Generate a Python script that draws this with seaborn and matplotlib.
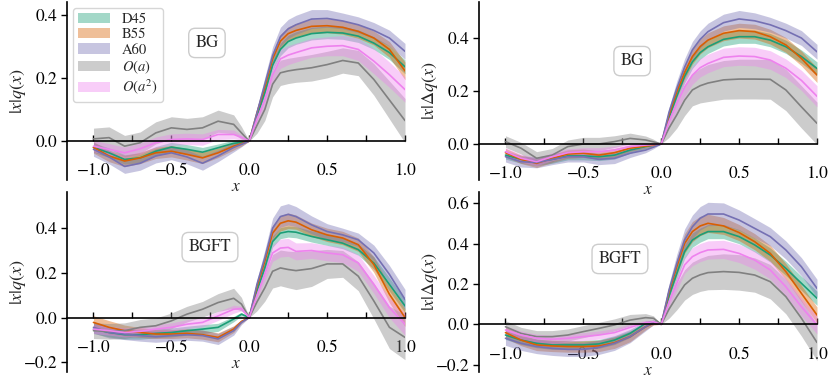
import numpy as np
import pandas as pd
import matplotlib
matplotlib.use("Agg")
import matplotlib.pyplot as plt
import seaborn as sns
from matplotlib.patches import Patch
from matplotlib.ticker import MultipleLocator

# ---------------- data ----------------
x = [-1.0, -0.9, -0.8, -0.7, -0.6, -0.5, -0.4, -0.3, -0.2, -0.1, -0.05, 0.0,
     0.05, 0.1, 0.15, 0.2, 0.25, 0.3, 0.4, 0.5, 0.6, 0.7, 0.8, 0.9, 1.0]

series_names = ["D45", "B55", "A60", "$O(a)$", "$O(a^2)$"]
series_colors = ["#1b9e77", "#d95f02", "#7570b3", "#808080", "#ee82ee"]

panel_labels = ["BG", "BG", "BGFT", "BGFT"]
panel_ylabels = ["$|x|q(x)$", "$|x|\\Delta q(x)$", "$|x|q(x)$", "$|x|\\Delta q(x)$"]

# top-left: |x| q(x), BG
tl_D45 = [-0.020, -0.037, -0.058, -0.053, -0.032, -0.019, -0.026, -0.035, -0.021, -0.007, -0.004, 0.0,
          0.080, 0.153, 0.240, 0.290, 0.315, 0.326, 0.340, 0.344, 0.342, 0.332, 0.310, 0.280, 0.235]
tl_B55 = [-0.020, -0.047, -0.063, -0.053, -0.037, -0.032, -0.042, -0.053, -0.037, -0.016, -0.008, 0.0,
          0.090, 0.170, 0.260, 0.316, 0.340, 0.350, 0.363, 0.365, 0.360, 0.347, 0.326, 0.290, 0.222]
tl_A60 = [-0.026, -0.050, -0.080, -0.070, -0.047, -0.037, -0.050, -0.070, -0.047, -0.020, -0.010, 0.0,
          0.090, 0.180, 0.270, 0.330, 0.355, 0.368, 0.386, 0.388, 0.380, 0.368, 0.350, 0.326, 0.284]
tl_Oa = [0.007, 0.011, -0.016, -0.005, 0.026, 0.042, 0.037, 0.042, 0.063, 0.053, 0.026, 0.0,
         0.050, 0.100, 0.180, 0.216, 0.222, 0.226, 0.232, 0.242, 0.255, 0.247, 0.195, 0.130, 0.065]
tl_Oa2 = [-0.016, -0.026, -0.037, -0.024, -0.005, 0.005, 0.007, 0.005, 0.021, 0.021, 0.012, 0.0,
          0.070, 0.130, 0.210, 0.260, 0.272, 0.280, 0.295, 0.300, 0.302, 0.290, 0.253, 0.210, 0.163]
tl_D45_err = [0.015, 0.015, 0.015, 0.015, 0.015, 0.015, 0.015, 0.015, 0.012, 0.010, 0.006, 0.0,
              0.010, 0.015, 0.018, 0.020, 0.020, 0.020, 0.020, 0.020, 0.020, 0.020, 0.020, 0.022, 0.022]
tl_B55_err = [0.018, 0.018, 0.018, 0.018, 0.018, 0.018, 0.018, 0.018, 0.015, 0.012, 0.008, 0.0,
              0.012, 0.018, 0.020, 0.022, 0.022, 0.022, 0.022, 0.022, 0.022, 0.022, 0.022, 0.025, 0.028]
tl_A60_err = [0.022, 0.022, 0.022, 0.022, 0.022, 0.022, 0.022, 0.022, 0.018, 0.014, 0.008, 0.0,
              0.015, 0.022, 0.028, 0.030, 0.030, 0.030, 0.030, 0.028, 0.025, 0.025, 0.025, 0.025, 0.025]
tl_Oa_err = [0.034, 0.034, 0.034, 0.034, 0.035, 0.035, 0.035, 0.035, 0.035, 0.030, 0.020, 0.0,
             0.025, 0.035, 0.040, 0.040, 0.040, 0.040, 0.042, 0.042, 0.040, 0.040, 0.050, 0.060, 0.070]
tl_Oa2_err = [0.018, 0.018, 0.018, 0.018, 0.018, 0.018, 0.018, 0.018, 0.016, 0.014, 0.008, 0.0,
              0.015, 0.025, 0.030, 0.030, 0.030, 0.030, 0.030, 0.030, 0.032, 0.035, 0.040, 0.040, 0.040]

# top-right: |x| Delta q(x), BG
tr_D45 = [-0.042, -0.058, -0.067, -0.058, -0.045, -0.045, -0.048, -0.042, -0.023, -0.010, -0.005, 0.0,
          0.100, 0.180, 0.255, 0.310, 0.345, 0.367, 0.395, 0.405, 0.405, 0.392, 0.367, 0.330, 0.285]
tr_B55 = [-0.033, -0.058, -0.073, -0.054, -0.038, -0.035, -0.042, -0.033, -0.016, -0.008, -0.004, 0.0,
          0.110, 0.197, 0.270, 0.330, 0.368, 0.392, 0.418, 0.428, 0.424, 0.405, 0.374, 0.323, 0.260]
tr_A60 = [-0.048, -0.067, -0.070, -0.058, -0.048, -0.048, -0.058, -0.054, -0.035, -0.023, -0.012, 0.0,
          0.120, 0.210, 0.290, 0.355, 0.395, 0.424, 0.458, 0.472, 0.465, 0.450, 0.428, 0.400, 0.348]
tr_Oa = [0.009, -0.016, -0.054, -0.042, -0.010, 0.000, 0.000, 0.009, 0.021, 0.015, 0.008, 0.0,
         0.060, 0.110, 0.165, 0.204, 0.220, 0.230, 0.242, 0.245, 0.245, 0.244, 0.204, 0.140, 0.078]
tr_Oa2 = [-0.029, -0.054, -0.067, -0.048, -0.033, -0.029, -0.029, -0.023, -0.010, -0.004, -0.002, 0.0,
          0.085, 0.153, 0.215, 0.260, 0.288, 0.304, 0.327, 0.332, 0.330, 0.317, 0.286, 0.240, 0.180]
tr_D45_err = [0.015, 0.015, 0.015, 0.015, 0.015, 0.015, 0.015, 0.015, 0.012, 0.008, 0.005, 0.0,
              0.015, 0.022, 0.025, 0.025, 0.025, 0.025, 0.025, 0.025, 0.025, 0.025, 0.025, 0.025, 0.025]
tr_B55_err = [0.016, 0.016, 0.016, 0.016, 0.016, 0.016, 0.016, 0.016, 0.012, 0.008, 0.005, 0.0,
              0.015, 0.022, 0.028, 0.028, 0.028, 0.028, 0.028, 0.028, 0.028, 0.028, 0.028, 0.028, 0.028]
tr_A60_err = [0.020, 0.020, 0.020, 0.020, 0.020, 0.020, 0.020, 0.020, 0.016, 0.010, 0.006, 0.0,
              0.018, 0.028, 0.032, 0.032, 0.032, 0.032, 0.032, 0.032, 0.030, 0.028, 0.028, 0.028, 0.028]
tr_Oa_err = [0.022, 0.022, 0.025, 0.025, 0.025, 0.025, 0.025, 0.022, 0.020, 0.015, 0.010, 0.0,
             0.035, 0.050, 0.058, 0.060, 0.065, 0.070, 0.073, 0.075, 0.075, 0.075, 0.078, 0.080, 0.080]
tr_Oa2_err = [0.015, 0.015, 0.015, 0.015, 0.015, 0.015, 0.015, 0.015, 0.012, 0.008, 0.005, 0.0,
              0.020, 0.030, 0.035, 0.035, 0.035, 0.035, 0.035, 0.035, 0.035, 0.035, 0.035, 0.038, 0.040]

# bottom-left: |x| q(x), BGFT
bl_D45 = [-0.052, -0.067, -0.077, -0.077, -0.071, -0.067, -0.059, -0.052, -0.044, -0.007, 0.015, 0.0,
          0.120, 0.222, 0.340, 0.378, 0.385, 0.382, 0.363, 0.348, 0.333, 0.304, 0.244, 0.148, 0.052]
bl_B55 = [-0.022, -0.044, -0.059, -0.067, -0.074, -0.074, -0.071, -0.077, -0.089, -0.052, -0.018, 0.0,
          0.140, 0.252, 0.378, 0.422, 0.433, 0.427, 0.393, 0.370, 0.356, 0.326, 0.237, 0.104, 0.000]
bl_A60 = [-0.044, -0.067, -0.074, -0.081, -0.086, -0.081, -0.077, -0.081, -0.096, -0.059, -0.022, 0.0,
          0.150, 0.267, 0.400, 0.452, 0.462, 0.452, 0.415, 0.385, 0.370, 0.348, 0.289, 0.193, 0.081]
bl_Oa = [-0.059, -0.062, -0.059, -0.044, -0.037, -0.015, 0.015, 0.037, 0.067, 0.086, 0.060, 0.0,
         0.070, 0.133, 0.207, 0.222, 0.215, 0.210, 0.219, 0.240, 0.240, 0.185, 0.074, -0.044, -0.089]
bl_Oa2 = [-0.052, -0.059, -0.067, -0.062, -0.052, -0.044, -0.030, -0.022, 0.007, 0.037, 0.040, 0.0,
          0.100, 0.193, 0.289, 0.311, 0.314, 0.296, 0.300, 0.289, 0.281, 0.244, 0.148, 0.044, -0.030]
bl_D45_err = [0.020, 0.020, 0.020, 0.020, 0.020, 0.020, 0.020, 0.020, 0.018, 0.012, 0.008, 0.0,
              0.015, 0.022, 0.025, 0.025, 0.025, 0.025, 0.025, 0.025, 0.025, 0.025, 0.028, 0.030, 0.030]
bl_B55_err = [0.030, 0.030, 0.025, 0.022, 0.020, 0.020, 0.020, 0.020, 0.020, 0.015, 0.008, 0.0,
              0.018, 0.028, 0.035, 0.035, 0.035, 0.032, 0.030, 0.030, 0.030, 0.030, 0.035, 0.038, 0.040]
bl_A60_err = [0.025, 0.025, 0.025, 0.025, 0.025, 0.025, 0.025, 0.025, 0.025, 0.020, 0.010, 0.0,
              0.020, 0.035, 0.045, 0.048, 0.048, 0.045, 0.040, 0.035, 0.030, 0.030, 0.035, 0.040, 0.045]
bl_Oa_err = [0.035, 0.035, 0.035, 0.035, 0.035, 0.035, 0.035, 0.035, 0.040, 0.045, 0.030, 0.0,
             0.040, 0.060, 0.075, 0.080, 0.082, 0.085, 0.080, 0.065, 0.060, 0.065, 0.080, 0.095, 0.100]
bl_Oa2_err = [0.020, 0.020, 0.020, 0.020, 0.020, 0.020, 0.020, 0.020, 0.020, 0.018, 0.010, 0.0,
              0.020, 0.030, 0.038, 0.040, 0.040, 0.038, 0.035, 0.035, 0.035, 0.038, 0.040, 0.045, 0.050]

# bottom-right: |x| Delta q(x), BGFT
br_D45 = [-0.053, -0.078, -0.094, -0.102, -0.102, -0.102, -0.097, -0.078, -0.045, 0.005, 0.013, 0.0,
          0.140, 0.252, 0.360, 0.417, 0.442, 0.459, 0.459, 0.434, 0.393, 0.343, 0.277, 0.203, 0.129]
br_B55 = [-0.041, -0.078, -0.102, -0.107, -0.110, -0.110, -0.107, -0.091, -0.061, -0.012, 0.005, 0.0,
          0.160, 0.285, 0.400, 0.459, 0.487, 0.500, 0.487, 0.454, 0.409, 0.351, 0.261, 0.153, 0.046]
br_A60 = [-0.069, -0.094, -0.110, -0.119, -0.124, -0.124, -0.114, -0.094, -0.061, -0.012, 0.008, 0.0,
          0.170, 0.302, 0.417, 0.483, 0.525, 0.546, 0.546, 0.516, 0.475, 0.434, 0.368, 0.285, 0.178]
br_Oa = [-0.012, -0.045, -0.061, -0.061, -0.053, -0.036, -0.020, -0.003, 0.021, 0.033, 0.030, 0.0,
         0.075, 0.137, 0.195, 0.228, 0.245, 0.256, 0.261, 0.257, 0.244, 0.211, 0.137, 0.030, -0.090]
br_Oa2 = [-0.028, -0.053, -0.069, -0.074, -0.069, -0.061, -0.053, -0.041, -0.015, 0.008, 0.013, 0.0,
          0.110, 0.203, 0.294, 0.335, 0.355, 0.368, 0.371, 0.351, 0.318, 0.269, 0.186, 0.087, -0.003]
br_D45_err = [0.022, 0.022, 0.022, 0.022, 0.022, 0.022, 0.022, 0.022, 0.020, 0.012, 0.008, 0.0,
              0.020, 0.030, 0.035, 0.035, 0.035, 0.035, 0.035, 0.035, 0.035, 0.035, 0.035, 0.035, 0.035]
br_B55_err = [0.028, 0.028, 0.028, 0.028, 0.028, 0.028, 0.028, 0.028, 0.025, 0.015, 0.008, 0.0,
              0.025, 0.040, 0.048, 0.050, 0.048, 0.045, 0.042, 0.040, 0.040, 0.040, 0.040, 0.040, 0.040]
br_A60_err = [0.035, 0.035, 0.035, 0.035, 0.035, 0.035, 0.035, 0.035, 0.030, 0.020, 0.010, 0.0,
              0.030, 0.045, 0.055, 0.058, 0.058, 0.058, 0.055, 0.050, 0.048, 0.045, 0.045, 0.045, 0.045]
br_Oa_err = [0.030, 0.030, 0.030, 0.030, 0.030, 0.030, 0.030, 0.030, 0.028, 0.020, 0.012, 0.0,
             0.045, 0.065, 0.075, 0.080, 0.082, 0.085, 0.088, 0.088, 0.085, 0.085, 0.085, 0.088, 0.090]
br_Oa2_err = [0.020, 0.020, 0.020, 0.020, 0.020, 0.020, 0.020, 0.020, 0.018, 0.012, 0.008, 0.0,
              0.025, 0.035, 0.042, 0.045, 0.045, 0.045, 0.045, 0.045, 0.045, 0.045, 0.045, 0.045, 0.045]

panels = [
    ([tl_D45, tl_B55, tl_A60, tl_Oa, tl_Oa2], [tl_D45_err, tl_B55_err, tl_A60_err, tl_Oa_err, tl_Oa2_err]),
    ([tr_D45, tr_B55, tr_A60, tr_Oa, tr_Oa2], [tr_D45_err, tr_B55_err, tr_A60_err, tr_Oa_err, tr_Oa2_err]),
    ([bl_D45, bl_B55, bl_A60, bl_Oa, bl_Oa2], [bl_D45_err, bl_B55_err, bl_A60_err, bl_Oa_err, bl_Oa2_err]),
    ([br_D45, br_B55, br_A60, br_Oa, br_Oa2], [br_D45_err, br_B55_err, br_A60_err, br_Oa_err, br_Oa2_err]),
]

# ---------------- style ----------------
sns.set_theme(style="ticks")
plt.rcParams["font.family"] = ["STIXGeneral", "DejaVu Serif"]
plt.rcParams["mathtext.fontset"] = "stix"
plt.rcParams["axes.unicode_minus"] = True

fig = plt.figure(figsize=(8.3, 3.77), dpi=100)
W, H = 830.0, 377.0
rects = [
    (67 / W, 1 - 180 / H, 338 / W, 178 / H),
    (479 / W, 1 - 180 / H, 338 / W, 178 / H),
    (67 / W, 1 - 372 / H, 338 / W, 180 / H),
    (479 / W, 1 - 372 / H, 338 / W, 180 / H),
]
ylims = [(-0.123, 0.44), (-0.136, 0.536), (-0.244, 0.562), (-0.236, 0.655)]
label_pos = [(0.414, 0.77), (0.453, 0.668), (0.423, 0.694), (0.417, 0.628)]

for i, rect in enumerate(rects):
    ax = fig.add_axes(rect)
    ys, errs = panels[i]
    for name, color, yv, ev in zip(series_names, series_colors, ys, errs):
        df = pd.DataFrame({"x": x, "y": yv, "e": ev})
        ax.fill_between(df["x"], df["y"] - df["e"], df["y"] + df["e"],
                        color=color, alpha=0.4, linewidth=0)
        sns.lineplot(data=df, x="x", y="y", color=color, linewidth=1.2, ax=ax,
                     estimator=None, sort=False)
    ax.set_xlim(-1.17, 1.0)
    ax.set_ylim(*ylims[i])
    ax.spines["top"].set_visible(False)
    ax.spines["right"].set_visible(False)
    ax.spines["bottom"].set_position(("data", 0))
    for sp in ("left", "bottom"):
        ax.spines[sp].set_linewidth(1.2)
        ax.spines[sp].set_color("black")
    ax.xaxis.set_major_locator(MultipleLocator(0.5))
    ax.xaxis.set_minor_locator(MultipleLocator(0.25))
    ax.yaxis.set_major_locator(MultipleLocator(0.2))
    ax.tick_params(axis="x", which="both", direction="in", length=4, width=1.0,
                   pad=16, labelsize=12.5, colors="black")
    ax.tick_params(axis="y", which="major", direction="out", length=4, width=1.0,
                   pad=3, labelsize=12.5, colors="black")
    ax.set_xlabel("$x$", fontsize=12.5, labelpad=0)
    ax.set_ylabel(panel_ylabels[i], fontsize=13)
    ax.yaxis.set_label_coords(-0.115, 0.5)
    ax.set_facecolor("none")
    ax.text(label_pos[i][0], label_pos[i][1], panel_labels[i], transform=ax.transAxes,
            ha="center", va="center", fontsize=12,
            bbox=dict(boxstyle="round,pad=0.4", facecolor="white", edgecolor="#cccccc",
                      linewidth=1.0))
    if i == 0:
        handles = [Patch(facecolor=c, alpha=0.4, edgecolor="none") for c in series_colors]
        ax.legend(handles, series_names, loc="upper left", fontsize=10.5,
                  frameon=True, fancybox=True, edgecolor="#cccccc",
                  borderaxespad=0.4, handlelength=2.2, labelspacing=0.12,
                  borderpad=0.35)

fig.savefig("out.png", dpi=100)
